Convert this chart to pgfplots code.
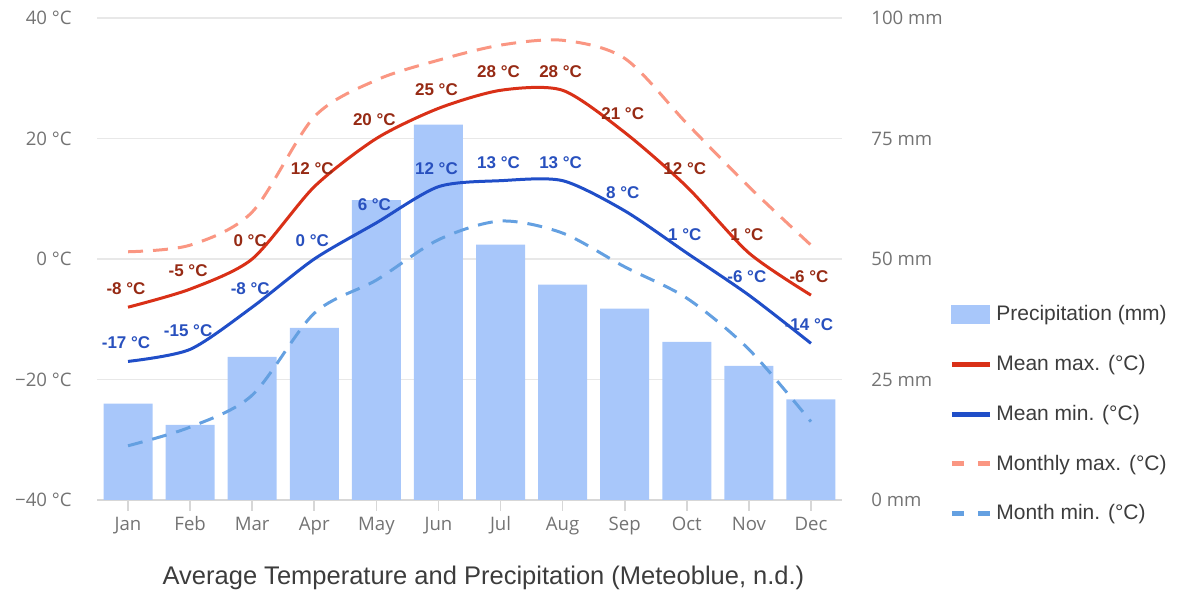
\documentclass[border=0pt]{standalone}
\usepackage{pgfplots}
\pgfplotsset{compat=1.18}
\usepackage{fontspec}
\setmainfont{Liberation Sans}
\newfontfamily\tickfont{Open Sans}
\definecolor{barblue}{RGB}{168,199,250}
\definecolor{maxred}{RGB}{217,48,23}
\definecolor{maxlab}{RGB}{150,42,20}
\definecolor{minblue}{RGB}{32,78,200}
\definecolor{minlab}{RGB}{40,80,190}
\definecolor{salmon}{RGB}{250,150,130}
\definecolor{mminblue}{RGB}{100,160,225}
\definecolor{gridgray}{RGB}{232,232,232}
\definecolor{axisgray}{RGB}{215,215,215}
\definecolor{tickgray}{RGB}{115,115,115}
\definecolor{titlegray}{RGB}{60,60,60}
\begin{document}
\begin{tikzpicture}
\path[use as bounding box] (0,0) rectangle (593pt,296pt);
\pgfplotsset{
  common/.style={
    at={(48.5pt,46pt)}, anchor=south west,
    scale only axis, width=372.5pt, height=241pt,
    xmin=-0.5, xmax=11.5,
    tick align=outside, major tick length=5.5pt,
    /pgf/number format/assume math mode=true,
    tick label style={font=\tickfont\fontsize{9.3}{11}\selectfont, text=tickgray},
  }
}
\begin{axis}[common,
  ymin=0, ymax=100,
  axis x line*=bottom, axis y line*=right,
  x axis line style={draw=axisgray, line width=0.8pt},
  y axis line style={draw=none},
  ytick={0,25,50,75,100},
  yticklabels={0 mm,25 mm,50 mm,75 mm,100 mm},
  ytick style={draw=none},
  yticklabel style={anchor=west, inner sep=0pt, xshift=9pt},
  ymajorgrids, grid style={gridgray, line width=0.8pt},
  xtick={0,...,11},
  xticklabels={Jan,Feb,Mar,Apr,May,Jun,Jul,Aug,Sep,Oct,Nov,Dec},
  xtick style={draw=axisgray, line width=0.8pt},
  xticklabel style={anchor=base, inner sep=0pt, yshift=-10pt},
  xlabel={Average Temperature and Precipitation (Meteoblue, n.d.)},
  xlabel style={at={(axis description cs:0.5,0)}, anchor=base, yshift=-42.5pt, xshift=7pt, font=\fontsize{12.75}{15}\selectfont, text=titlegray, inner sep=0pt},
]
\addplot[ybar, bar width=24.5pt, fill=barblue, draw=none] coordinates {
(0,20.0) (1,15.6) (2,29.7) (3,35.7) (4,62.2) (5,77.9) (6,53.0) (7,44.7) (8,39.7) (9,32.8) (10,27.8) (11,20.9)};
\end{axis}
\begin{axis}[common,
  ymin=-40, ymax=40,
  hide x axis,
  axis y line*=left,
  y axis line style={draw=none},
  ytick={-40,-20,0,20,40},
  yticklabels={−40 °C,−20 °C,0 °C,20 °C,40 °C},
  ytick style={draw=none},
  yticklabel style={anchor=east, inner sep=0pt, xshift=-7pt},
  legend style={at={(1.1436,0.4128)}, anchor=north west, draw=none, fill=none, inner sep=0pt,
    font=\fontsize{10.5}{12}\selectfont, text=titlegray, row sep=11.8pt},
  legend cell align=left,
]
\addlegendimage{legend image code/.code={\fill[barblue] (0pt,-4.5pt) rectangle (19pt,4.5pt);}}
\addlegendentry{Precipitation (mm)}
\addlegendimage{legend image code/.code={\draw[maxred, line width=2.5pt] (0pt,0pt) -- (19pt,0pt);}}
\addlegendentry{Mean max. (°C)}
\addlegendimage{legend image code/.code={\draw[minblue, line width=2.5pt] (0pt,0pt) -- (19pt,0pt);}}
\addlegendentry{Mean min. (°C)}
\addlegendimage{legend image code/.code={\draw[salmon, line width=2.5pt] (0pt,0pt) -- (6pt,0pt) (13pt,0pt) -- (19pt,0pt);}}
\addlegendentry{Monthly max. (°C)}
\addlegendimage{legend image code/.code={\draw[mminblue, line width=2.5pt] (0pt,0pt) -- (6pt,0pt) (13pt,0pt) -- (19pt,0pt);}}
\addlegendentry{Month min. (°C)}
% Monthly max (dashed)
\addplot[smooth, line width=1.5pt, salmon, dash pattern=on 7.5pt off 5pt, forget plot] coordinates {
(0,1.2) (1,2.3) (2,7.8) (3,23.6) (4,29.7) (5,33.0) (6,35.5) (7,36.3) (8,33.3) (9,22.5) (10,12.0) (11,2.3)};
% Month min (dashed)
\addplot[smooth, line width=1.5pt, mminblue, dash pattern=on 7.5pt off 5pt, forget plot] coordinates {
(0,-31.0) (1,-27.9) (2,-22.6) (3,-9.0) (4,-3.5) (5,3.2) (6,6.3) (7,4.3) (8,-1.3) (9,-6.5) (10,-15.0) (11,-27.0)};
% Mean max
\addplot[smooth, tension=0.45, line width=1.5pt, maxred, forget plot, point meta=y,
  nodes near coords={\pgfmathprintnumber[assume math mode=true]{\pgfplotspointmeta}~°C},
  nodes near coords style={font=\bfseries\fontsize{8.5}{10}\selectfont, text=maxlab, anchor=base, yshift=6.3pt, xshift=-1pt, inner sep=0pt},
] coordinates {
(0,-8) (1,-5) (2,0) (3,12) (4,20) (5,25) (6,28) (7,28) (8,21) (9,12) (10,1) (11,-6)};
% Mean min
\addplot[smooth, tension=0.45, line width=1.5pt, minblue, forget plot, point meta=y,
  nodes near coords={\pgfmathprintnumber[assume math mode=true]{\pgfplotspointmeta}~°C},
  nodes near coords style={font=\bfseries\fontsize{8.5}{10}\selectfont, text=minlab, anchor=base, yshift=6.3pt, xshift=-1pt, inner sep=0pt},
] coordinates {
(0,-17) (1,-15) (2,-8) (3,0) (4,6) (5,12) (6,13) (7,13) (8,8) (9,1) (10,-6) (11,-14)};
\end{axis}
\end{tikzpicture}
\end{document}
